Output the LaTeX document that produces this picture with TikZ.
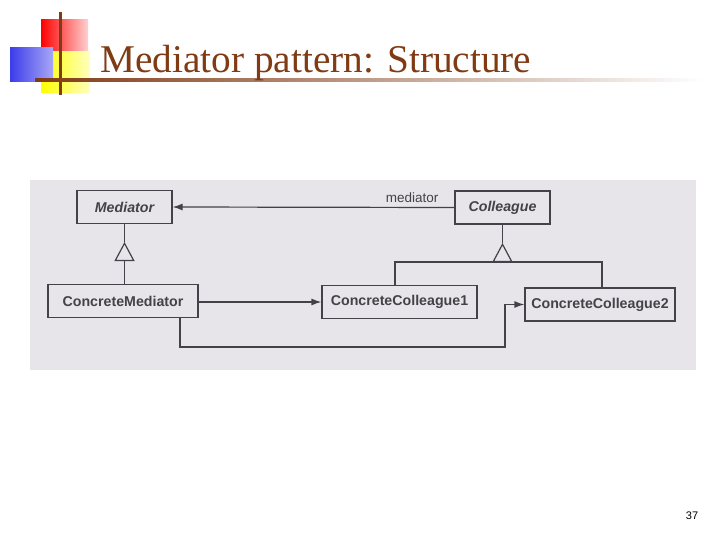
\documentclass[tikz,border=0pt]{standalone}
\usepackage{fontspec}
\setmainfont{Liberation Serif}
\setsansfont{Liberation Sans}
\usetikzlibrary{arrows.meta}
\definecolor{titlebrown}{RGB}{128,58,20}
\definecolor{photobg}{RGB}{231,229,233}
\definecolor{ink}{RGB}{68,66,72}
\definecolor{fillblue}{RGB}{60,60,235}
\tikzset{
  cls/.style={draw=ink, line width=1.2pt, fill=photobg, inner sep=0pt, minimum height=33pt,
    font=\sffamily\bfseries\fontsize{14.2}{16}\selectfont, text=ink},
  abscls/.style={cls, font=\sffamily\bfseries\itshape\fontsize{14.2}{16}\selectfont},
  conn/.style={draw=ink, line width=1.2pt},
  assoc/.style={conn, -{Latex[length=10pt,width=7pt]}},
  inherit/.style={conn, -{Triangle[open,length=19pt,width=20pt,line width=1.2pt]}}
}
\begin{document}
\begin{tikzpicture}[x=1pt,y=-1pt]
\useasboundingbox (0,0) rectangle (720,540);
% decoration
\shade[left color=red, right color=red!18] (41,20) rectangle (88,52);
\shade[left color=yellow, right color=yellow!25] (41,52) rectangle (90,93);
\shade[left color=fillblue, right color=fillblue!45] (10,48) rectangle (53,82);
\fill[titlebrown] (59,12) rectangle (61.5,95);
\shade[left color=titlebrown, right color=white] (35,79) rectangle (705,82);
\node[anchor=base west, text=titlebrown, font=\fontsize{39.3}{43}\selectfont, inner sep=0pt] (title) at (100,73) {Mediator pattern: Structure};
% photo
\fill[photobg] (30,180) rectangle (696,370);
% classes
\node[abscls, minimum width=95pt] (med) at (124.5,207) {Mediator};
\node[abscls, minimum width=95pt] (col) at (502.5,207.5) {Colleague};
\node[cls, minimum width=150pt] (cmed) at (123,301) {ConcreteMediator};
\node[cls, minimum width=155pt] (cc1) at (399.5,302) {ConcreteColleague1};
\node[cls, minimum width=150pt] (cc2) at (600,304.5) {ConcreteColleague2};
% mediator association
\draw[assoc] (col.west) -- node[above=1pt, pos=0.15, font=\sffamily\fontsize{13.5}{15}\selectfont, text=ink] (medlbl) {mediator} (med.east);
% inheritance Mediator
\coordinate (mapex) at (124.5,242);
\coordinate (mbase) at (124.5,261);
\draw[conn] (cmed.north -| mapex) -- (mbase);
\draw[inherit] (mbase) -- (mapex);
\draw[conn] (mapex) -- (med.south);
% inheritance Colleague
\coordinate (capex) at (502.5,243);
\coordinate (cbase) at (502.5,262);
\coordinate (cleft) at (395,262);
\coordinate (cright) at (602,262);
\draw[conn] (cc1.north -| cleft) -- (cleft) -- (cright) -- (cc2.north -| cright);
\draw[inherit] (cbase) -- (capex);
\draw[conn] (capex) -- (col.south);
% concrete mediator to colleagues
\draw[assoc] (cmed.east |- cc1.west) -- (cc1.west);
\coordinate (lowl) at (180,347);
\coordinate (lowr) at (505,347);
\draw[assoc] (cmed.south -| lowl) -- (lowl) -- (lowr) -- (lowr |- cc2.west) -- (cc2.west);
% page number
\node[font=\sffamily\fontsize{11}{13}\selectfont, inner sep=0pt] (pnum) at (692,516) {37};
\end{tikzpicture}
\end{document}
